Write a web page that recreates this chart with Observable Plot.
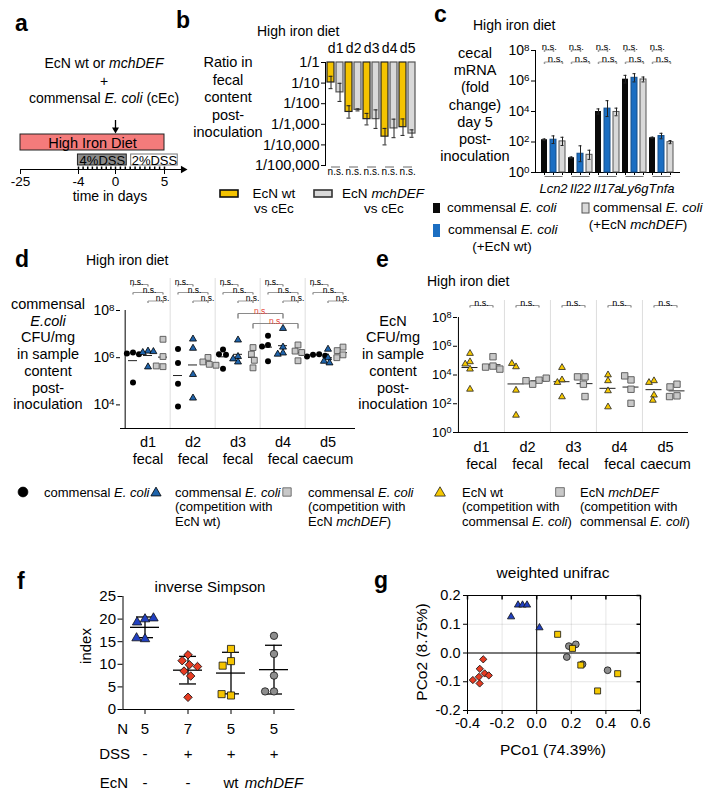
<!DOCTYPE html>
<html><head><meta charset="utf-8">
<script src="https://cdn.jsdelivr.net/npm/d3@7"></script>
<script src="https://cdn.jsdelivr.net/npm/@observablehq/plot@0.6"></script>
<style>
html,body{margin:0;padding:0;background:#fff;overflow:hidden}
#fig{position:relative;width:704px;height:801px;font-family:"Liberation Sans",Arial,Helvetica,sans-serif;}
#fig svg{position:absolute;left:0;top:0;}
</style></head><body><div id="fig"></div>
<script>
// ================= DATA =================
// a: timeline
const timeTicks = [-25, -4, 0, 5];
const timeMinorTicks = [-4,-3.5,-3,-2.5,-2,-1.5,-1,-0.5,0,0.5,1,1.5,2,2.5,3,3.5,4,4.5,5];
const timeAxisEnd = 6.9;
const periodLabels = ["High Iron Diet", "4%DSS", "2%DSS"];
const periodStart = [-25, -4.2, 1.6];
const periodEnd = [5, 1.15, 6.35];
const periodRow = ["diet", "dss", "dss"];
const inoculationDay = [0];

// b: log10 ratio EcN / cEc in feces
const bDays = ["d1", "d2", "d3", "d4", "d5"];
const bWtLog = [-0.97, -2.40, -2.75, -3.60, -3.14];
const bWtErr = [0.30, 0.30, 0.28, 0.40, 0.40];
const bMchLog = [-1.45, -2.30, -2.75, -3.20, -3.45];
const bMchErr = [0.44, 0.05, 0.45, 0.45, 0.18];
const bTickValues = [1e-5, 1e-4, 1e-3, 1e-2, 1e-1, 1];
const bTickLabels = ["1/100,000", "1/10,000", "1/1,000", "1/100", "1/10", "1/1"];

// c: log10 fold change of cecal mRNA
const cGenes = ["Lcn2", "Il22", "Il17a", "Ly6g", "Tnfa"];
const cCommensal = [2.15, 0.97, 4.00, 6.12, 2.28];
const cCommensalErr = [0.05, 0.05, 0.17, 0.25, 0.04];
const cWithWt = [2.15, 1.23, 4.19, 6.21, 2.39];
const cWithWtErr = [0.25, 0.52, 0.52, 0.27, 0.18];
const cWithMch = [2.04, 1.16, 3.97, 6.10, 1.99];
const cWithMchErr = [0.27, 0.30, 0.25, 0.16, 0.10];
const cTickValues = [1, 1e2, 1e4, 1e6, 1e8];

// d: log10 commensal E. coli CFU/mg
const dDays = ["d1", "d2", "d3", "d4", "d5"];
const dDayLabels = ["d1\nfecal", "d2\nfecal", "d3\nfecal", "d4\nfecal", "d5\ncaecum"];
const dCommensal = [[6.22,6.18,6.15,4.95],[6.37,5.78,4.90,3.93],[6.35,6.15,6.12,5.53],[6.93,6.54,6.47,5.85],[6.12,6.05,6.15,6.20,6.08]];
const dWithWt = [[6.28,6.22,6.26,5.61],[6.79,6.40,5.29,4.29],[6.75,6.05,5.95,5.82],[7.24,6.45,6.20,6.15],[6.36,6.00,5.85,5.78]];
const dWithMch = [[6.78,6.05,5.62,5.65],[6.01,5.82,5.72,5.68],[6.43,6.15,5.89,5.57],[6.54,6.28,6.22,5.87],[6.45,6.30,6.12,6.00]];
const dTickValues = [1e4, 1e6, 1e8];
const dRedComparisons = [["d3|t", "d4|t"], ["d3|s", "d4|s"]];

// e: log10 EcN CFU/mg
const eDays = ["d1", "d2", "d3", "d4", "d5"];
const eDayLabels = ["d1\nfecal", "d2\nfecal", "d3\nfecal", "d4\nfecal", "d5\ncaecum"];
const eWt = [[5.50,4.92,4.76,4.41,3.01],[4.57,4.80,2.94,1.20],[4.52,3.66,3.48,2.48],[4.01,3.60,2.90,1.78],[3.60,3.48,2.60,2.24]];
const eMch = [[5.27,4.62,4.55,4.41],[3.64,3.36,3.78,3.60],[3.87,3.87,3.36,2.50],[3.66,3.94,3.01,2.03],[3.36,3.17,2.55,2.50]];
const eTickValues = [1, 1e2, 1e4, 1e6, 1e8];

// f: inverse Simpson index
const fGroups = ["noDSS", "DSS", "DSS+wt", "DSS+mchDEF"];
const fNoDss = [20.0, 19.3, 20.2, 15.6, 15.8];
const fDss = [12.1, 10.8, 9.9, 9.5, 8.5, 7.4, 2.7];
const fDssWt = [13.4, 10.7, 9.7, 3.1, 3.4];
const fDssMch = [16.3, 12.3, 7.5, 4.0, 4.0];
const fDssRow = ["-", "+", "+", "+"];
const fEcnRow = ["-", "-", "wt", "mchDEF"];
const fTicks = [0, 5, 10, 15, 20, 25];

// g: weighted unifrac PCoA
const gDssX = [-0.309, -0.329, -0.301, -0.277, -0.369, -0.334, -0.330];
const gDssY = [-0.022, -0.055, -0.071, -0.078, -0.094, -0.083, -0.106];
const gNoDssX = [-0.148, -0.108, -0.082, -0.056, 0.016];
const gNoDssY = [0.126, 0.167, 0.167, 0.167, 0.088];
const gWtX = [0.121, 0.207, 0.255, 0.352, 0.468];
const gWtY = [0.065, 0.016, -0.042, -0.132, -0.072];
const gMchX = [0.186, 0.226, 0.174, 0.265, 0.410];
const gMchY = [0.024, 0.030, -0.014, -0.039, -0.060];
const gXTicks = [-0.4, -0.2, 0, 0.2, 0.4, 0.6];
const gYTicks = [-0.2, -0.1, 0, 0.1, 0.2];

// ================= HELPERS =================
const W = 704, H = 801;
const FONT = "'Liberation Sans', Arial, Helvetica, sans-serif";
const fig = document.getElementById("fig");
const YELLOW = "#f4c300", GRAYF = "#d9d9d9", BLUE_C = "#1b6ec2", BLUE_D = "#1f63aa", BLUE_F = "#2140c0", RED = "#e63b22", GRAYDOT = "#8e8e8e";

function overlay([l, t, r, b], options, fontSize = 14) {
  const svg = Plot.plot({
    width: W, height: H,
    marginLeft: l, marginTop: t, marginRight: W - r, marginBottom: H - b,
    style: `background:transparent;overflow:visible;font-family:${FONT};font-size:${fontSize}px;color:#000;`,
    ...options
  });
  svg.style.position = "absolute"; svg.style.left = "0px"; svg.style.top = "0px";
  fig.appendChild(svg);
  return svg;
}
const keyed = (groups, series) => groups.flatMap(g => series.map(s => `${g}|${s}`));
const pow10 = d => "10^" + Math.round(Math.log10(d));
const vTick = len => ({draw(ctx) { ctx.moveTo(0, 0); ctx.lineTo(0, len); }});
const hTick = len => ({draw(ctx) { ctx.moveTo(0, 0); ctx.lineTo(len, 0); }});
function bracketMarks(data, {x1, x2, y, dy, tx, tdx = 0, color = "#9a9a9a", textColor = "#000", size = 9, drop = 2}) {
  return [
    Plot.link(data, {x1, x2, y1: y, y2: y, dy, stroke: color}),
    Plot.dot(data, {x: x1, y, dy, symbol: vTick(drop), stroke: color, fill: "none"}),
    Plot.dot(data, {x: x2, y, dy, symbol: vTick(drop), stroke: color, fill: "none"}),
    Plot.text(data, {x: tx, y, dy, dx: tdx, lineAnchor: "bottom", text: () => "n.s.", fontSize: size, fill: textColor})
  ];
}

// ================= PANEL a =================
// broken time axis: the long pre-treatment period is compressed
const timeDisplay = d3.scaleLinear().domain(timeTicks).range([0, 58, 95, 144]);
const periods = periodLabels.map((label, i) => ({label, row: periodRow[i],
  x1: timeDisplay(periodStart[i]), x2: timeDisplay(periodEnd[i]),
  mid: (timeDisplay(periodStart[i]) + timeDisplay(periodEnd[i])) / 2}));
overlay([20, 110, 183, 169], {
  x: {domain: [0, 163], ticks: timeTicks.map(timeDisplay), tickSize: 5, tickPadding: 1.5,
      tickFormat: v => String(Math.round(timeDisplay.invert(v))), label: null, line: true},
  y: {type: "band", domain: ["cue", "diet", "dss"], range: [118, 166], padding: 0, axis: null},
  marks: [
    Plot.barX(periods.filter(d => d.row === "diet"), {x1: "x1", x2: "x2", y: "row", fill: "#f47b7b", stroke: "#222"}),
    Plot.barX(periods.slice(1, 2), {x1: "x1", x2: "x2", y: "row", fill: "#8b8b8b", stroke: "#222", insetTop: 4, insetBottom: 1}),
    Plot.barX(periods.slice(2, 3), {x1: "x1", x2: "x2", y: "row", fill: "#fff", stroke: "#777", insetTop: 4, insetBottom: 1}),
    Plot.text(periods.filter(d => d.row === "diet"), {x: "mid", y: "row", text: "label", fontSize: 14.5, dy: 1}),
    Plot.text(periods.filter(d => d.row === "dss"), {x: "mid", y: "row", text: "label", fontSize: 13, dy: 2.5}),
    Plot.tickX(inoculationDay, {x: d => timeDisplay(d), y: () => "cue", insetTop: 2, insetBottom: 5, strokeWidth: 1.3}),
    Plot.dot(inoculationDay, {x: d => timeDisplay(d), y: () => "cue", symbol: "triangle", rotate: 180, r: 2.6, fill: "#000", dy: 3}),
    Plot.dot(timeMinorTicks, {x: d => timeDisplay(d), frameAnchor: "bottom", symbol: vTick(-3), stroke: "#000", fill: "none"}),
    Plot.dot([timeAxisEnd], {x: d => timeDisplay(d), frameAnchor: "bottom", symbol: "triangle", rotate: 90, r: 2.8, fill: "#000"})
  ]
}, 13.5);

// ================= PANEL b =================
const bKeys = keyed(bDays, ["wt", "mch"]);
const bRange = [325, 418], bPI = 0.2, bPO = 0.1;
const bStep = (bRange[1] - bRange[0]) / (bKeys.length - bPI + 2 * bPO);
const bRows = bDays.flatMap((d, i) => [
  {key: `${d}|wt`, s: "wt", v: bWtLog[i], e: bWtErr[i]},
  {key: `${d}|mch`, s: "mch", v: bMchLog[i], e: bMchErr[i]}]);
overlay([325, 62, 418, 165], {
  x: {type: "band", domain: bKeys, range: bRange, paddingInner: bPI, paddingOuter: bPO, axis: null},
  y: {type: "log", domain: [1e-5, 1], ticks: bTickValues, tickSize: 4, tickPadding: 2, line: true, label: null,
      tickFormat: d => bTickLabels[Math.round(Math.log10(d)) + 5]},
  marks: [
    Plot.barY(bRows.filter(d => d.s === "wt"), {x: "key", y1: () => 1, y2: d => 10 ** d.v, fill: YELLOW, stroke: "#222", strokeWidth: 1.2}),
    Plot.barY(bRows.filter(d => d.s === "mch"), {x: "key", y1: () => 1, y2: d => 10 ** d.v, fill: GRAYF, stroke: "#555", strokeWidth: 1.2}),
    Plot.ruleX(bRows, {x: "key", y1: d => 10 ** (d.v - d.e), y2: d => 10 ** (d.v + d.e), stroke: "#222"}),
    Plot.tickY(bRows, {x: "key", y: d => 10 ** (d.v - d.e), insetLeft: 1.5, insetRight: 1.5, stroke: "#222"}),
    Plot.tickY(bRows, {x: "key", y: d => 10 ** (d.v + d.e), insetLeft: 1.5, insetRight: 1.5, stroke: "#222"}),
    Plot.text(bDays, {x: d => `${d}|wt`, dx: bStep / 2, frameAnchor: "top", lineAnchor: "top", dy: -19, text: d => d, fontSize: 14}),
    Plot.link(bDays, {x1: d => `${d}|wt`, x2: d => `${d}|mch`, y1: () => 1e-5, y2: () => 1e-5, dy: 1.5, stroke: "#9a9a9a", strokeWidth: 1.5}),
    Plot.text(bDays, {x: d => `${d}|wt`, dx: bStep / 2, frameAnchor: "bottom", lineAnchor: "top", dy: 2.5, text: () => "n.s.", fontSize: 10})
  ]
}, 14.5);

// ================= PANEL c =================
const cKeys = keyed(cGenes, ["c", "wt", "mch"]);
const cRange = [535, 680], cPI = 0.3, cPO = 0.15;
const cStep = (cRange[1] - cRange[0]) / (cKeys.length - cPI + 2 * cPO);
const cRows = cGenes.flatMap((g, i) => [
  {key: `${g}|c`, s: "c", v: cCommensal[i], e: cCommensalErr[i]},
  {key: `${g}|wt`, s: "wt", v: cWithWt[i], e: cWithWtErr[i]},
  {key: `${g}|mch`, s: "mch", v: cWithMch[i], e: cWithMchErr[i]}]);
overlay([535, 50, 680, 172], {
  x: {type: "band", domain: cKeys, range: cRange, paddingInner: cPI, paddingOuter: cPO, tickSize: 3, tickFormat: () => "", label: null},
  y: {type: "log", domain: [1, 1e8], ticks: cTickValues, tickFormat: pow10, tickSize: 4, tickPadding: 2, line: true, label: null},
  marks: [
    Plot.ruleY([1]),
    Plot.barY(cRows.filter(d => d.s === "c"), {x: "key", y1: () => 1, y2: d => 10 ** d.v, fill: "#0a0a0a"}),
    Plot.barY(cRows.filter(d => d.s === "wt"), {x: "key", y1: () => 1, y2: d => 10 ** d.v, fill: BLUE_C, stroke: "#164f8a"}),
    Plot.barY(cRows.filter(d => d.s === "mch"), {x: "key", y1: () => 1, y2: d => 10 ** d.v, fill: GRAYF, stroke: "#555"}),
    Plot.ruleX(cRows, {x: "key", y1: d => 10 ** (d.v - d.e), y2: d => 10 ** (d.v + d.e), stroke: "#222"}),
    Plot.tickY(cRows, {x: "key", y: d => 10 ** (d.v - d.e), insetLeft: 1.5, insetRight: 1.5, stroke: "#222"}),
    Plot.tickY(cRows, {x: "key", y: d => 10 ** (d.v + d.e), insetLeft: 1.5, insetRight: 1.5, stroke: "#222"}),
    ...bracketMarks(cGenes, {x1: g => `${g}|c`, x2: g => `${g}|wt`, y: () => 1e8, dy: -0.5, tx: g => `${g}|c`, tdx: cStep / 2, size: 9.5}),
    ...bracketMarks(cGenes, {x1: g => `${g}|c`, x2: g => `${g}|mch`, y: () => 1e8, dy: 11.5, tx: g => `${g}|wt`, tdx: 2, size: 9.5}),
    Plot.link(cGenes, {x1: g => `${g}|c`, x2: g => `${g}|mch`, y1: () => 1, y2: () => 1, dy: 4, stroke: "#777"}),
    Plot.text(cGenes, {x: g => `${g}|wt`, text: g => g, frameAnchor: "bottom", lineAnchor: "top", dy: 11, fontStyle: "italic", fontSize: 13})
  ]
}, 14);

// ================= PANEL d =================
const dKeys = keyed(dDays, ["c", "t", "s"]);
const dRange = [120, 355];
const dBw = (dRange[1] - dRange[0]) / dKeys.length;
const dPoints = dDays.flatMap((d, i) => [
  ...dCommensal[i].map(v => ({key: `${d}|c`, s: "c", v})),
  ...dWithWt[i].map(v => ({key: `${d}|t`, s: "t", v})),
  ...dWithMch[i].map(v => ({key: `${d}|s`, s: "s", v}))]);
const dMeans = d3.flatRollup(dPoints, v => d3.mean(v, p => p.v), p => p.key).map(([key, m]) => ({key, m}));
const dY = {type: "log", domain: [1e3, 1e8], range: [428, 310]};
const redMarks = dRedComparisons.flatMap(([a, b], j) => {
  const mid = (dKeys.indexOf(a) + dKeys.indexOf(b)) / 2;
  const anchorKey = dKeys[Math.floor(mid)];
  return bracketMarks([{a, b, t: anchorKey}], {x1: "a", x2: "b", y: () => 1e8, dy: 3 + 10 * j, tx: "t",
    tdx: (mid - Math.floor(mid)) * dBw, color: "#8a8a8a", textColor: "#e8483a", size: 8.5, drop: 5});
});
overlay([120, 278, 355, 428], {
  x: {type: "band", domain: dKeys, range: dRange, padding: 0, axis: null},
  y: {...dY, ticks: dTickValues, tickFormat: pow10, tickSize: 4, tickPadding: 2, label: null},
  marks: [
    Plot.ruleX(dDays.slice(1), {x: d => `${d}|c`, dx: -dBw / 2, stroke: "#dedede"}),
    Plot.ruleX(dDays.slice(0, 1), {x: d => `${d}|c`, dx: -dBw / 2, y1: () => 1e3, y2: () => 1e8, stroke: "#000"}),
    Plot.ruleY([1e3], {stroke: "#000"}),
    Plot.text(dDays, {x: d => `${d}|t`, text: (d, i) => dDayLabels[i], frameAnchor: "bottom", lineAnchor: "top", dy: 7, lineHeight: 1.15, fontSize: 14.5}),
    ...bracketMarks(dDays, {x1: d => `${d}|c`, x2: d => `${d}|t`, y: () => 1e8, dy: -26, tx: d => `${d}|c`, tdx: 3.5, size: 8.5}),
    ...bracketMarks(dDays, {x1: d => `${d}|c`, x2: d => `${d}|s`, y: () => 1e8, dy: -18, tx: d => `${d}|t`, tdx: 1.5, size: 8.5}),
    ...bracketMarks(dDays, {x1: d => `${d}|t`, x2: d => `${d}|s`, y: () => 1e8, dy: -9.5, tx: d => `${d}|s`, tdx: -0.5, size: 8.5}),
    ...redMarks
  ]
}, 14);
overlay([120, 310, 355, 428], {
  fx: {domain: dKeys, padding: 0, axis: null, label: null},
  y: {...dY, axis: null},
  marks: [
    Plot.ruleY(dMeans, {fx: "key", y: d => 10 ** d.m, insetLeft: 3, insetRight: 3, stroke: "#222"}),
    Plot.dot(dPoints.filter(p => p.s === "c"), Plot.dodgeX({anchor: "middle", padding: 0.2}, {fx: "key", y: p => 10 ** p.v, r: 3, symbol: "circle", fill: "#000"})),
    Plot.dot(dPoints.filter(p => p.s === "t"), Plot.dodgeX({anchor: "middle", padding: 0.2}, {fx: "key", y: p => 10 ** p.v, r: 2.6, symbol: "triangle", fill: BLUE_D, stroke: "#000", strokeWidth: 0.8})),
    Plot.dot(dPoints.filter(p => p.s === "s"), Plot.dodgeX({anchor: "middle", padding: 0.2}, {fx: "key", y: p => 10 ** p.v, r: 3.3, symbol: "square", fill: "#c8c8c8", stroke: "#555", strokeWidth: 0.9}))
  ]
}, 14);

// ================= PANEL e =================
const eKeys = keyed(eDays, ["w", "m"]);
const eRange = [457, 688];
const eBw = (eRange[1] - eRange[0]) / eKeys.length;
const ePoints = eDays.flatMap((d, i) => [
  ...eWt[i].map(v => ({key: `${d}|w`, s: "w", v})),
  ...eMch[i].map(v => ({key: `${d}|m`, s: "m", v}))]);
const eMeans = d3.flatRollup(ePoints, v => d3.mean(v, p => p.v), p => p.key).map(([key, m]) => ({key, m}));
const eY = {type: "log", domain: [1, 1e8], range: [432, 317]};
overlay([457, 300, 688, 432], {
  x: {type: "band", domain: eKeys, range: eRange, padding: 0, axis: null},
  y: {...eY, ticks: eTickValues, tickFormat: pow10, tickSize: 4, tickPadding: 2, label: null},
  marks: [
    Plot.ruleX(eDays.slice(1), {x: d => `${d}|w`, dx: -eBw / 2, stroke: "#dedede"}),
    Plot.ruleX(eDays.slice(0, 1), {x: d => `${d}|w`, dx: -eBw / 2, y1: () => 1, y2: () => 1e8, stroke: "#000"}),
    Plot.ruleY([1], {stroke: "#000"}),
    Plot.text(eDays, {x: d => `${d}|w`, dx: eBw / 2, text: (d, i) => eDayLabels[i], frameAnchor: "bottom", lineAnchor: "top", dy: 7.7, lineHeight: 1.15, fontSize: 14.5}),
    ...bracketMarks(eDays, {x1: d => `${d}|w`, x2: d => `${d}|m`, y: () => 1e8, dy: -12, tx: d => `${d}|w`, tdx: eBw / 2})
  ]
}, 13);
overlay([457, 317, 688, 432], {
  fx: {domain: eKeys, padding: 0, axis: null, label: null},
  y: {...eY, axis: null},
  marks: [
    Plot.ruleY(eMeans, {fx: "key", y: d => 10 ** d.m, insetLeft: 3.5, insetRight: 3.5, stroke: "#222"}),
    Plot.dot(ePoints.filter(p => p.s === "w"), Plot.dodgeX({anchor: "middle", padding: 0.3}, {fx: "key", y: p => 10 ** p.v, r: 2.5, symbol: "triangle", fill: "#f6c800", stroke: "#222", strokeWidth: 0.8})),
    Plot.dot(ePoints.filter(p => p.s === "m"), Plot.dodgeX({anchor: "middle", padding: 0.3}, {fx: "key", y: p => 10 ** p.v, r: 3.6, symbol: "square", fill: "#c8c8c8", stroke: "#555", strokeWidth: 0.9}))
  ]
}, 13);

// ================= PANEL f =================
const fSets = [fNoDss, fDss, fDssWt, fDssMch];
const fStats = fGroups.map((g, i) => ({g, m: d3.mean(fSets[i]), sd: d3.deviation(fSets[i]), n: fSets[i].length, dss: fDssRow[i], ecn: fEcnRow[i]}));
const fPoints = fGroups.flatMap((g, i) => fSets[i].map(v => ({g, v})));
overlay([122.5, 596, 294.5, 709], {
  x: {type: "band", domain: fGroups, padding: 0, tickSize: 5, tickFormat: () => "", label: null},
  y: {domain: [0, 25], ticks: fTicks, tickSize: 5, tickPadding: 2, line: true, label: null},
  marks: [
    Plot.ruleY([0]),
    Plot.ruleX(fStats, {x: "g", y1: d => d.m - d.sd, y2: d => d.m + d.sd, strokeWidth: 1.3}),
    Plot.tickY(fStats, {x: "g", y: "m", insetLeft: 7, insetRight: 7, strokeWidth: 1.3}),
    Plot.tickY(fStats, {x: "g", y: d => d.m - d.sd, insetLeft: 13, insetRight: 13, strokeWidth: 1.3}),
    Plot.tickY(fStats, {x: "g", y: d => d.m + d.sd, insetLeft: 13, insetRight: 13, strokeWidth: 1.3}),
    Plot.text(fStats, {x: "g", text: d => String(d.n), frameAnchor: "bottom", lineAnchor: "top", dy: 14.3, fontSize: 15}),
    Plot.text(fStats, {x: "g", text: "dss", frameAnchor: "bottom", lineAnchor: "top", dy: 39.3, fontSize: 15}),
    Plot.text(fStats.filter(d => d.ecn !== "mchDEF"), {x: "g", text: "ecn", frameAnchor: "bottom", lineAnchor: "top", dy: 68.3, fontSize: 15}),
    Plot.text(fStats.filter(d => d.ecn === "mchDEF"), {x: "g", text: "ecn", frameAnchor: "bottom", lineAnchor: "top", dy: 68.3, fontSize: 15, fontStyle: "italic"})
  ]
}, 15);
const fSym = {"noDSS": ["triangle", BLUE_F, 3.5, 0], "DSS": ["square", RED, 3.4, 45], "DSS+wt": ["square", "#f5c400", 4.0, 0], "DSS+mchDEF": ["circle", GRAYDOT, 3.7, 0]};
overlay([122.5, 596, 294.5, 709], {
  fx: {domain: fGroups, padding: 0, axis: null, label: null},
  y: {domain: [0, 25], axis: null},
  marks: fGroups.map(g => Plot.dot(fPoints.filter(p => p.g === g), Plot.dodgeX({anchor: "middle", padding: 1.5},
    {fx: "g", y: "v", symbol: fSym[g][0], fill: fSym[g][1], r: fSym[g][2], rotate: fSym[g][3], stroke: "#111", strokeWidth: 0.8})))
}, 15);

// ================= PANEL g =================
const gSets = [
  {x: gDssX, y: gDssY, symbol: "square", rotate: 45, fill: RED, r: 2.9},
  {x: gNoDssX, y: gNoDssY, symbol: "triangle", rotate: 0, fill: BLUE_F, r: 2.7},
  {x: gMchX, y: gMchY, symbol: "circle", rotate: 0, fill: GRAYDOT, r: 3.4},
  {x: gWtX, y: gWtY, symbol: "square", rotate: 0, fill: "#f5c800", r: 3.4}
];
overlay([467, 595, 640, 710], {
  x: {domain: [-0.4, 0.6], ticks: gXTicks, tickFormat: d => d.toFixed(1), tickSize: 4, tickPadding: 3, grid: true, label: null},
  y: {domain: [-0.2, 0.2], ticks: gYTicks, tickFormat: d => d.toFixed(1), tickSize: 4, tickPadding: 3, grid: true, label: null},
  marks: [
    Plot.ruleX([0], {stroke: "#000"}),
    Plot.ruleY([0], {stroke: "#000"}),
    Plot.frame({stroke: "#000"}),
    Plot.dot(gXTicks, {x: d => d, y: () => 0.2, symbol: vTick(4), stroke: "#000", fill: "none"}),
    Plot.dot(gYTicks, {x: () => 0.6, y: d => d, symbol: hTick(-4), stroke: "#000", fill: "none"}),
    ...gSets.map(s => Plot.dot(s.x.map((x, i) => ({x, y: s.y[i]})), {x: "x", y: "y", symbol: s.symbol, rotate: s.rotate, fill: s.fill, r: s.r, stroke: "#111", strokeWidth: 0.8}))
  ]
}, 14.5);

// ================= ANNOTATIONS (text, legends) =================
const ann = d3.create("svg").attr("width", W).attr("height", H)
  .style("position", "absolute").style("left", "0px").style("top", "0px").style("overflow", "visible")
  .attr("font-family", FONT);
function T(x, y, s, {size = 14, anchor = "start", weight = null, fill = "#000", rotate = null} = {}) {
  const t = ann.append("text").attr("x", x).attr("y", y).attr("font-size", size).attr("text-anchor", anchor).attr("fill", fill);
  if (weight) t.attr("font-weight", weight);
  if (rotate != null) t.attr("transform", `rotate(${rotate},${x},${y})`);
  s.split(/(\*[^*]+\*)/).forEach(part => {
    if (!part) return;
    const it = part.startsWith("*");
    const sp = t.append("tspan").text(it ? part.slice(1, -1) : part);
    if (it) sp.attr("font-style", "italic");
  });
  return t;
}
function ML(x, ys, lines, opts) { lines.forEach((l, i) => T(x, ys[i], l, opts)); }
function rect(x, y, w, h, fill, stroke = "none", sw = 1) {
  ann.append("rect").attr("x", x).attr("y", y).attr("width", w).attr("height", h).attr("fill", fill).attr("stroke", stroke).attr("stroke-width", sw);
}
function sym(type, x, y, size, fill, stroke = "#000") {
  ann.append("path").attr("d", d3.symbol(type, size)()).attr("transform", `translate(${x},${y})`)
    .attr("fill", fill).attr("stroke", stroke).attr("stroke-width", 0.8);
}
const L = {size: 23, weight: "bold"};
// a
T(15, 31, "a", L);
T(104, 68, "EcN wt or *mchDEF*", {anchor: "middle"});
T(104, 85.5, "+", {anchor: "middle"});
T(104, 103, "commensal *E. coli* (cEc)", {anchor: "middle"});
T(110, 201, "time in days", {anchor: "middle"});
// b
T(176, 28, "b", L);
T(257, 36, "High iron diet");
ML(228, [67, 84.5, 102, 119.5, 137], ["Ratio in", "fecal", "content", "post-", "inoculation"], {size: 14.5, anchor: "middle"});
rect(220, 190, 18, 7, YELLOW, "#111", 1.6);
T(274, 197.5, "EcN wt", {size: 13.5, anchor: "middle"});
T(274, 213, "vs  cEc", {size: 13.5, anchor: "middle"});
rect(314, 190, 18, 7, GRAYF, "#333", 1.6);
T(383, 197.5, "EcN *mchDEF*", {size: 13.5, anchor: "middle"});
T(384, 213, "vs cEc", {size: 13.5, anchor: "middle"});
// c
T(434, 22, "c", L);
T(473, 30, "High iron diet");
ML(475, [58, 75.2, 92.4, 109.6, 126.8, 144, 161.2], ["cecal", "mRNA", "(fold", "change)", "day 5", "post-", "inoculation"], {size: 14.5, anchor: "middle"});
rect(433, 203, 7, 10, "#0a0a0a");
T(447, 212, "commensal *E. coli*", {size: 13.5});
rect(582, 203, 7, 10, GRAYF, "#555");
T(593, 212, "commensal *E. coli*", {size: 13.5});
T(638, 229, "(+EcN *mchDEF*)", {size: 13.5, anchor: "middle"});
rect(433, 224, 7, 13, BLUE_C);
T(448, 234, "commensal *E. coli*", {size: 13.5});
T(502, 251, "(+EcN wt)", {size: 13.5, anchor: "middle"});
// d
T(15, 267, "d", L);
T(86, 265, "High iron diet");
ML(48, [309, 325.7, 342.4, 359, 375.8, 392.5, 409.2], ["commensal", "*E.coli*", "CFU/mg", "in sample", "content", "post-", "inoculation"], {size: 14.5, anchor: "middle"});
// e
T(376, 267, "e", L);
T(427, 286, "High iron diet");
ML(393, [325.7, 342.4, 359, 375.8, 392.5, 409.2], ["EcN", "CFU/mg", "in sample", "content", "post-", "inoculation"], {size: 14.5, anchor: "middle"});
// legend d/e
const LY = [496.5, 511, 525.5], LS = {size: 13};
sym(d3.symbolCircle, 23, 492, 75, "#000");
T(44, LY[0], "commensal *E. coli*", LS);
sym(d3.symbolTriangle, 156, 493, 45, BLUE_D);
ML(175, LY, ["commensal *E. coli*", "(competition with", "EcN wt)"], LS);
sym(d3.symbolSquare, 287, 492, 70, "#c8c8c8", "#555");
ML(308, LY, ["commensal *E. coli*", "(competition with", "EcN *mchDEF*)"], LS);
sym(d3.symbolTriangle, 440, 493, 50, "#f6c800", "#222");
ML(462, LY, ["EcN wt", "(competition with", "commensal *E. coli*)"], LS);
sym(d3.symbolSquare, 560, 492, 75, "#c8c8c8", "#555");
ML(580, LY, ["EcN *mchDEF*", "(competition with", "commensal *E. coli*)"], LS);
// f
T(17, 589, "f", L);
T(210, 592, "inverse Simpson", {size: 15, anchor: "middle"});
T(91, 646, "index", {size: 15, anchor: "middle", rotate: -90});
T(128, 734, "N", {size: 15, anchor: "end"});
T(130, 759, "DSS", {size: 15, anchor: "end"});
T(128, 788, "EcN", {size: 15, anchor: "end"});
// g
T(374, 588, "g", L);
T(553, 578, "weighted unifrac", {size: 15.5, anchor: "middle"});
T(427, 652, "PCo2 (8.75%)", {size: 15.5, anchor: "middle", rotate: -90});
T(553, 755, "PCo1 (74.39%)", {size: 15.5, anchor: "middle"});
fig.appendChild(ann.node());

// superscript exponents in "10^n" tick labels
fig.querySelectorAll("text").forEach(el => {
  const m = /^10\^(\d+)$/.exec(el.textContent);
  if (!m) return;
  const ns = "http://www.w3.org/2000/svg";
  el.textContent = "";
  const a = document.createElementNS(ns, "tspan"); a.textContent = "10";
  const b = document.createElementNS(ns, "tspan"); b.textContent = m[1];
  b.setAttribute("dy", "-0.45em"); b.setAttribute("font-size", "70%");
  el.append(a, b);
});
</script></body></html>
